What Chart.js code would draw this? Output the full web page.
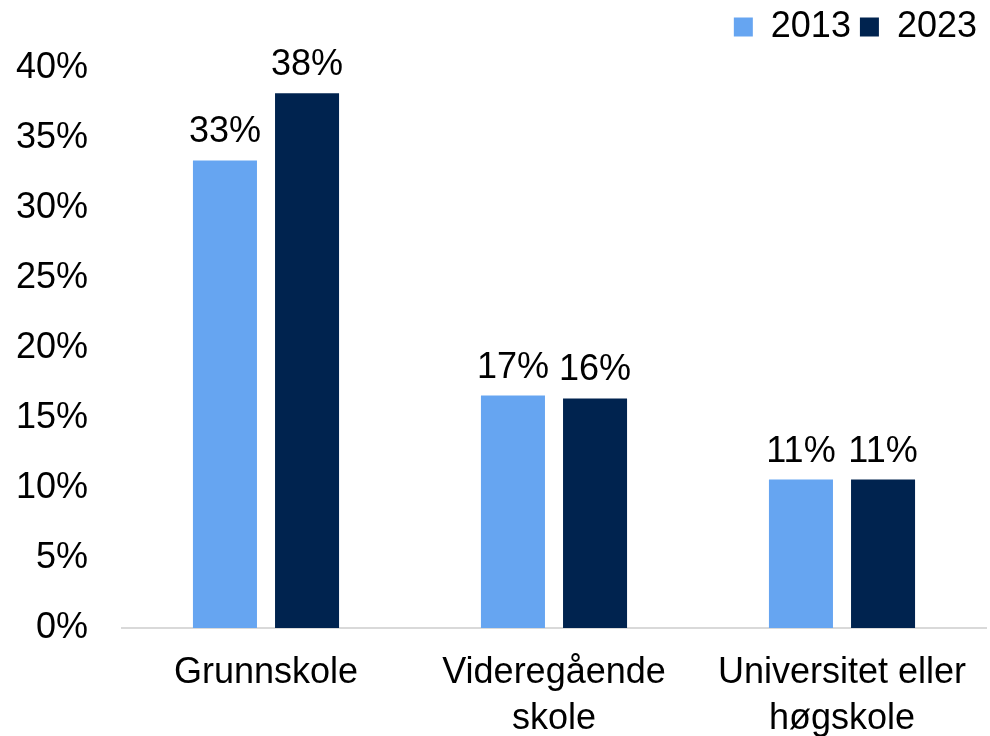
<!DOCTYPE html>
<html>
<head>
<meta charset="utf-8">
<script src="https://cdn.jsdelivr.net/npm/chart.js@4/dist/chart.umd.min.js"></script>
<style>
  body { margin: 0; background: #fff; }
  #wrap { width: 990px; height: 736px; }
</style>
</head>
<body>
<div id="wrap"><canvas id="myChart"></canvas></div>
<script>
var categories = [["Grunnskole"], ["Videregående", "skole"], ["Universitet eller", "høgskole"]];
var seriesNames = ["2013", "2023"];
var values2013 = [33.4, 16.6, 10.6];
var values2023 = [38.2, 16.4, 10.6];
var colors = ["#66A5F1", "#00234F"];

var FONT = "'Liberation Sans', Arial, sans-serif";

// draws the percent label above each bar
var barLabels = {
    id: 'barLabels',
    afterDatasetsDraw: function (chart) {
        var ctx = chart.ctx;
        ctx.save();
        ctx.font = "36px " + FONT;
        ctx.fillStyle = "#000";
        ctx.textAlign = "center";
        ctx.textBaseline = "alphabetic";
        chart.data.datasets.forEach(function (ds, i) {
            var meta = chart.getDatasetMeta(i);
            meta.data.forEach(function (bar, j) {
                ctx.fillText(Math.round(ds.data[j]) + "%", bar.x, bar.y - 18);
            });
        });
        ctx.restore();
    }
};

// leave more room under the legend
var legendSpace = {
    id: 'legendSpace',
    beforeLayout: function (chart) {
        var lg = chart.legend;
        if (lg && !lg._patched) {
            var orig = lg.fit;
            lg.fit = function () {
                orig.call(this);
                this.height = 68;
            };
            lg._patched = true;
        }
    }
};

var ctx = document.getElementById("myChart").getContext('2d');
var myChart = new Chart(ctx, {
    type: 'bar',
    data: {
        labels: categories,
        datasets: [
            { label: seriesNames[0], data: values2013, backgroundColor: colors[0] },
            { label: seriesNames[1], data: values2023, backgroundColor: colors[1] }
        ]
    },
    options: {
        responsive: true,
        maintainAspectRatio: false,
        animation: false,
        categoryPercentage: 0.57,
        barPercentage: 0.78,
        layout: { padding: { top: 0, right: 4, left: 16, bottom: 0 } },
        plugins: {
            tooltip: { enabled: false },
            legend: {
                position: 'top',
                align: 'end',
                labels: {
                    boxWidth: 19,
                    boxHeight: 19,
                    padding: 9,
                    color: "#000",
                    font: { family: FONT, size: 36 }
                }
            }
        },
        scales: {
            x: {
                grid: { display: false, drawTicks: false },
                border: { display: true, color: "#d9d9d9", width: 2 },
                afterFit: function (scale) { scale.height = 108; },
                ticks: {
                    color: "#000",
                    padding: 22,
                    maxRotation: 0,
                    autoSkip: false,
                    font: { family: FONT, size: 36, lineHeight: 1.27 }
                }
            },
            y: {
                min: 0,
                max: 40,
                grid: { display: false, drawTicks: false },
                border: { display: false },
                afterFit: function (scale) { scale.width = 106; },
                ticks: {
                    stepSize: 5,
                    color: "#000",
                    padding: 34,
                    font: { family: FONT, size: 36 },
                    callback: function (v) { return v + "%"; }
                }
            }
        }
    },
    plugins: [barLabels, legendSpace]
});
</script>
</body>
</html>
